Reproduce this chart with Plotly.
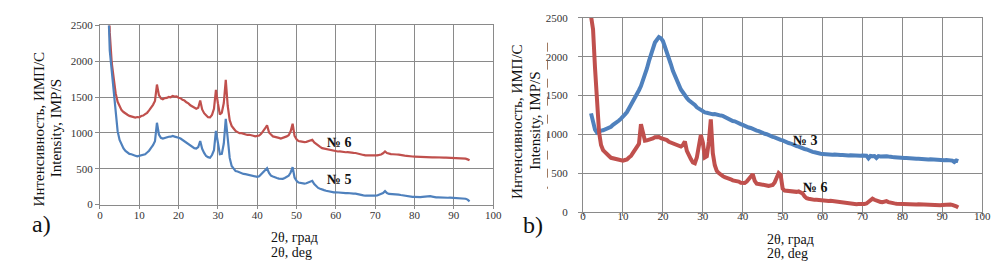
import numpy as np
import plotly.graph_objects as go

# 2-theta sampling grid (deg)
theta = np.arange(2.0, 94.01, 0.5)

# Panel a) - sample No 6 (red) and No 5 (blue)
a_no6 = [3400,2400,1980,1720,1555,1435,1362,1318,1292,1268,1254,1238,1231,1219,1214,1222,1218,1236,1243,1262,
         1281,1314,1348,1392,1446,1675,1528,1482,1471,1486,1489,1503,1498,1517,1508,1509,1492,1484,1462,1452,
         1428,1413,1386,1372,1347,1338,1352,1452,1328,1276,1248,1219,1216,1252,1336,1602,1415,1258,1284,1418,
         1742,1376,1178,1098,1062,1027,1012,996,998,987,984,972,974,962,961,952,958,963,987,1018,
         1062,1108,1008,977,952,946,933,931,922,931,933,952,968,1022,1128,958,912,888,882,872,
         871,876,884,897,904,868,846,818,806,788,782,768,766,756,753,746,746,741,742,736,
         737,731,732,726,728,722,720,711,706,697,693,687,686,683,684,682,687,688,693,699,
         716,741,719,709,704,703,705,699,698,691,689,683,681,675,674,671,670,668,669,666,
         667,664,665,662,663,660,661,658,659,657,658,655,656,654,655,652,654,651,652,648,
         649,644,641,631,618]
a_no5 = [3000,2150,1870,1560,1275,1025,902,828,784,748,727,708,702,688,683,674,679,683,697,703,
         727,752,792,828,884,1142,978,932,922,933,934,947,948,957,949,946,933,922,903,887,
         863,847,823,808,788,783,802,888,778,722,678,662,653,692,758,1028,858,702,708,852,
         1198,898,652,538,497,468,462,448,442,428,426,418,417,408,402,389,387,394,422,448,
         482,508,442,404,392,378,372,363,362,360,372,383,402,448,522,378,332,308,302,293,
         292,298,312,318,332,288,257,233,222,208,202,193,187,178,177,170,172,168,170,165,
         166,161,162,156,158,153,152,144,141,131,129,124,123,119,121,121,125,127,136,144,
         162,188,161,149,149,145,146,141,140,134,129,121,119,113,112,109,109,106,107,104,
         108,111,117,121,118,112,105,101,102,99,100,97,99,96,98,96,97,95,96,92,
         91,86,82,70,45]

# Panel b) - sample No 3 (blue) and No 6 (red)
b_no6 = [2520,2350,1850,1380,1030,862,798,772,738,722,698,692,678,674,666,668,662,670,678,702,
         722,762,798,842,878,1132,1002,918,922,928,942,948,962,968,966,952,946,932,926,904,
         892,878,872,858,852,843,862,908,788,722,682,638,628,702,878,992,898,702,718,902,
         1192,758,602,528,502,478,462,448,442,428,422,408,406,398,392,378,372,374,392,428,
         472,488,402,366,362,354,352,344,342,336,342,348,382,442,502,478,302,276,272,266,
         266,261,262,260,266,256,238,202,178,172,164,161,157,157,153,152,149,146,147,142,
         144,140,141,136,134,126,122,114,112,108,109,104,106,102,104,101,103,104,110,126,
         152,172,158,144,136,130,128,132,140,128,118,114,112,108,106,104,103,101,102,100,
         101,99,100,98,99,97,98,96,97,94,95,92,93,91,90,88,92,96,98,95,
         97,93,88,74,60]
b_no3 = [1270,1170,1060,1022,1038,1048,1052,1062,1068,1086,1098,1122,1138,1162,1178,1202,1224,1258,1288,1332,
         1372,1422,1468,1522,1568,1622,1688,1772,1848,1942,2028,2118,2182,2218,2252,2238,2202,2128,2062,1978,
         1902,1818,1752,1688,1632,1578,1542,1498,1468,1438,1422,1398,1378,1348,1332,1308,1296,1282,1278,1268,
         1266,1258,1262,1252,1254,1242,1238,1222,1212,1194,1188,1172,1168,1152,1148,1132,1122,1108,1102,1088,
         1082,1068,1062,1048,1042,1028,1022,1008,1002,988,982,968,962,948,942,928,922,908,902,888,
         882,868,862,848,842,828,824,812,806,792,786,774,770,760,758,750,748,744,746,740,
         743,738,740,735,737,733,735,730,733,728,731,727,729,725,728,724,727,722,724,692,
         722,718,721,696,720,716,719,715,718,714,716,708,706,702,703,698,699,695,696,692,
         693,689,690,686,687,683,684,680,681,678,679,676,677,673,674,671,672,668,669,665,
         666,662,643,664,655]

x_ticks = [0, 10, 20, 30, 40, 50, 60, 70, 80, 90, 100]
y_ticks = [0, 500, 1000, 1500, 2000, 2500]

RED = "#C0504D"
BLUE = "#4F81BD"
GRID = "#8a8a8a"
SERIF = "Times New Roman, Liberation Serif, DejaVu Serif, serif"
W, H = 1003, 269

def px(x):
    return x / W

def py(y):
    return 1 - y / H

fig = go.Figure()
fig.add_trace(go.Scatter(x=theta, y=a_no6, mode="lines", line=dict(color=RED, width=2.2), xaxis="x", yaxis="y"))
fig.add_trace(go.Scatter(x=theta, y=a_no5, mode="lines", line=dict(color=BLUE, width=2.2), xaxis="x", yaxis="y"))
fig.add_trace(go.Scatter(x=theta, y=b_no3, mode="lines", line=dict(color=BLUE, width=4), xaxis="x2", yaxis="y2"))
fig.add_trace(go.Scatter(x=theta, y=b_no6, mode="lines", line=dict(color=RED, width=4), xaxis="x2", yaxis="y2"))

tickfont = dict(family=SERIF, size=11, color="#333333")
common_x = dict(range=[0, 100], tickvals=x_ticks, showgrid=True, gridcolor=GRID, gridwidth=1,
                showline=True, linecolor=GRID, mirror=True, ticks="outside", ticklen=3, tickcolor=GRID,
                tickfont=tickfont, zeroline=False)
common_y = dict(range=[0, 2500], tickvals=y_ticks, showgrid=True, gridcolor=GRID, gridwidth=1,
                showline=True, linecolor=GRID, mirror=True, ticks="outside", ticklen=4, tickcolor=GRID,
                tickfont=tickfont, zeroline=False)

fig.update_layout(
    width=W, height=H, margin=dict(l=0, r=0, t=0, b=0),
    paper_bgcolor="white", plot_bgcolor="white", showlegend=False,
    xaxis=dict(domain=[px(90), px(488)], anchor="y", ticklabelstandoff=-3, **common_x),
    yaxis=dict(domain=[py(199.5), py(12)], anchor="x", **common_y),
    xaxis2=dict(domain=[px(579), px(983)], anchor="y2", ticklabelstandoff=-9, **common_x),
    yaxis2=dict(domain=[py(207.3), py(4)], anchor="x2", ticklabelstandoff=8, **common_y),
)

ann = []
lab = dict(family=SERIF, size=14, color="#111111")
# series labels
ann.append(dict(x=60.8, y=860, xref="x", yref="y", text="<b>№ 6</b>", showarrow=False, font=lab))
ann.append(dict(x=60.8, y=353, xref="x", yref="y", text="<b>№ 5</b>", showarrow=False, font=lab))
ann.append(dict(x=55.6, y=926, xref="x2", yref="y2", text="<b>№ 3</b>", showarrow=False, font=lab))
ann.append(dict(x=58.2, y=311, xref="x2", yref="y2", text="<b>№ 6</b>", showarrow=False, font=lab))

tfont = dict(family=SERIF, size=15, color="#111111")
# y titles
for xa, xb, yc in [(18, 35, 120), (512, 530, 112)]:
    ann.append(dict(x=px(xa), y=py(yc), xref="paper", yref="paper", text="Интенсивность, ИМП/С",
                    textangle=-90, showarrow=False, font=tfont))
    ann.append(dict(x=px(xb), y=py(yc), xref="paper", yref="paper", text="Intensity, IMP/S",
                    textangle=-90, showarrow=False, font=tfont))
# x titles
xfont = dict(family=SERIF, size=14, color="#111111")
for xl, y1, y2 in [(261, 244, 260), (763, 246, 261)]:
    ann.append(dict(x=px(xl), y=py(y1), xref="paper", yref="paper", text="2θ, град",
                    xanchor="left", showarrow=False, font=xfont))
    ann.append(dict(x=px(xl), y=py(y2), xref="paper", yref="paper", text="2θ, deg",
                    xanchor="left", showarrow=False, font=xfont))
# panel letters
pfont = dict(family=SERIF, size=24, color="#111111")
ann.append(dict(x=px(19), y=py(236), xref="paper", yref="paper", text="a)", showarrow=False, font=pfont))
ann.append(dict(x=px(528), y=py(237), xref="paper", yref="paper", text="b)", showarrow=False, font=pfont))
fig.update_layout(annotations=ann)

fig.add_shape(type="line", xref="paper", yref="paper", x0=px(543), x1=px(543), y0=py(30), y1=py(183),
              line=dict(color="#a07a60", width=1, dash="dash"))

fig.write_html("out.html")
